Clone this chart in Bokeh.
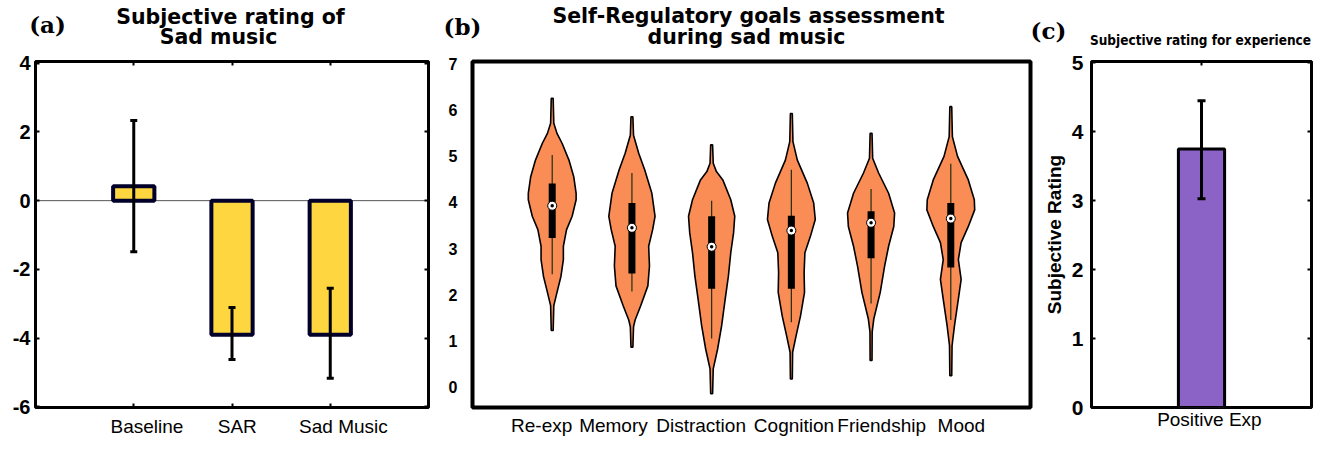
from bokeh.plotting import figure
from bokeh.models import (Range1d, FixedTicker, Label, Span, Whisker, ColumnDataSource,
                          TeeHead, LinearAxis)
from bokeh.layouts import row, column
from bokeh.embed import file_html
from bokeh.resources import INLINE

# ---------------- data ----------------
# (a) Subjective rating of Sad music
a_categories = ["Baseline", "SAR", "Sad Music"]
a_means = [0.42, -3.9, -3.9]
a_err_upper = [2.33, -3.11, -2.55]
a_err_lower = [-1.49, -4.62, -5.17]
a_yticks = [-6, -4, -2, 0, 2, 4]

# (b) Self-Regulatory goals (violins)
b_categories = ["Re-exp", "Memory", "Distraction", "Cognition", "Friendship", "Mood"]
b_medians = [3.93, 3.45, 3.04, 3.39, 3.56, 3.65]
b_q1 = [3.23, 2.46, 2.13, 2.13, 2.79, 2.59]
b_q3 = [4.41, 3.99, 3.70, 3.71, 3.81, 3.99]
b_whisk_lo = [2.44, 2.07, 1.05, 1.40, 1.81, 1.45]
b_whisk_hi = [5.03, 4.64, 4.04, 4.71, 4.29, 4.84]
b_yticks = [0, 1, 2, 3, 4, 5, 6, 7]
# density profiles: value levels and half-widths (x-axis units)
reexp_y = [1.22, 1.76, 2.05, 2.40, 2.76, 3.05, 3.41, 3.70, 4.06, 4.20, 4.56, 4.92, 5.28, 5.50, 5.72, 6.26]
reexp_w = [0.012, 0.02, 0.06, 0.11, 0.14, 0.14, 0.18, 0.25, 0.30, 0.30, 0.27, 0.21, 0.125, 0.06, 0.02, 0.012]
memory_y = [0.86, 1.30, 1.45, 1.76, 2.19, 2.62, 3.05, 3.41, 3.70, 4.20, 4.71, 5.07, 5.46, 5.86]
memory_w = [0.012, 0.02, 0.04, 0.11, 0.20, 0.22, 0.21, 0.26, 0.29, 0.25, 0.16, 0.085, 0.02, 0.012]
distr_y = [-0.15, 0.39, 0.82, 1.32, 1.90, 2.40, 2.91, 3.34, 3.70, 4.06, 4.49, 4.67, 4.85, 5.25]
distr_w = [0.012, 0.02, 0.075, 0.125, 0.17, 0.21, 0.24, 0.275, 0.29, 0.24, 0.14, 0.06, 0.02, 0.012]
cogn_y = [0.17, 0.75, 1.11, 1.54, 2.05, 2.48, 2.91, 3.27, 3.63, 3.99, 4.42, 4.92, 5.32, 5.93]
cogn_w = [0.012, 0.016, 0.06, 0.115, 0.165, 0.16, 0.17, 0.24, 0.30, 0.28, 0.20, 0.075, 0.02, 0.012]
friend_y = [0.57, 1.19, 1.47, 2.05, 2.62, 3.05, 3.48, 3.77, 4.20, 4.64, 4.96, 5.50]
friend_w = [0.012, 0.014, 0.034, 0.115, 0.17, 0.22, 0.285, 0.295, 0.22, 0.095, 0.02, 0.012]
mood_y = [0.24, 0.89, 1.32, 1.90, 2.33, 2.76, 3.13, 3.48, 3.84, 4.06, 4.49, 5.00, 5.43, 6.08]
mood_w = [0.012, 0.016, 0.046, 0.095, 0.13, 0.095, 0.13, 0.22, 0.30, 0.295, 0.22, 0.085, 0.02, 0.012]

# (c) Subjective rating for experience
c_categories = ["Positive Exp"]
c_means = [3.75]
c_err_upper = [4.45]
c_err_lower = [3.03]
c_yticks = [0, 1, 2, 3, 4, 5]

# ---------------- styling helpers ----------------
SANS = "Liberation Sans"
COND = "DejaVu Sans Condensed"
NB = "\u00a0"
HH = 49            # header height
PH = 400           # panel height


def shifted(label, n):
    """Pad a tick label with no-break spaces to nudge it sideways (n>0: right)."""
    return NB * n + label if n > 0 else label + NB * (-n)


def style_fig(p, lw):
    p.xgrid.visible = False
    p.ygrid.visible = False
    p.outline_line_color = "black"
    p.outline_line_width = lw
    p.background_fill_color = "white"
    p.border_fill_color = "white"


def style_axes(p, xsize, ysize, xstand, ystand, ticks=True):
    for ax in p.xaxis + p.yaxis:
        ax.axis_line_color = None
        ax.minor_tick_line_color = None
        ax.major_label_text_color = "black"
        if ticks:
            ax.major_tick_in = 4
            ax.major_tick_out = 0
            ax.major_tick_line_width = 2
            ax.major_tick_line_color = "black"
        else:
            ax.major_tick_line_color = None
    p.xaxis.major_label_text_font = SANS
    p.xaxis.major_label_text_font_size = xsize
    p.xaxis.major_label_standoff = xstand
    p.yaxis.major_label_text_font = SANS
    p.yaxis.major_label_text_font_style = "bold"
    p.yaxis.major_label_text_font_size = ysize
    p.yaxis.major_label_standoff = ystand


def mirror_axes(p, xticks, yticks):
    for ticks, side in ((xticks, "above"), (yticks, "right")):
        ax = LinearAxis(ticker=FixedTicker(ticks=ticks), axis_line_color=None,
                        major_tick_in=4, major_tick_out=0, major_tick_line_width=2,
                        minor_tick_line_color=None, major_label_text_font_size="1px",
                        major_label_text_alpha=0, major_label_standoff=0)
        p.add_layout(ax, side)


# ---------------- header (panel letters and titles) ----------------
hd = figure(width=1323, height=HH, x_range=Range1d(0, 1323), y_range=Range1d(HH, 0),
            output_backend="svg", toolbar_location=None, title=None,
            min_border=0, min_border_left=0, min_border_right=0, min_border_top=0, min_border_bottom=0)
hd.axis.visible = False
hd.xgrid.visible = False
hd.ygrid.visible = False
hd.outline_line_color = None
header_texts = [
    ("(a)", 47, 24, "DejaVu Serif", "23px"),
    ("Subjective rating of", 230, 16, "DejaVu Sans", "20.5px"),
    ("Sad music", 218, 36.8, "DejaVu Sans", "20.5px"),
    ("(b)", 462, 26, "DejaVu Serif", "23px"),
    ("Self-Regulatory goals assessment", 748, 15, "DejaVu Sans", "20.5px"),
    ("during sad music", 746, 36.8, "DejaVu Sans", "20.5px"),
    ("(c)", 1048, 30, "DejaVu Serif", "23px"),
    ("Subjective rating for experience", 1200, 39.5, COND, "13.5px"),
]
for t, x, y, f, s in header_texts:
    hd.add_layout(Label(x=x, y=y, text=t, text_font=f, text_font_size=s, text_font_style="bold",
                        text_align="center", text_baseline="middle", text_color="black"))

# ---------------- panel (a) ----------------
pa = figure(width=440, height=PH, x_range=Range1d(0, 4), y_range=Range1d(-6.02, 4.05),
            output_backend="svg", toolbar_location=None, title=None,
            min_border_left=35, min_border_right=12, min_border_top=11, min_border_bottom=PH - 11 - 347)
style_fig(pa, 3)
a_x = [i + 1 for i in range(len(a_categories))]
pa.add_layout(Span(location=0, dimension="width", line_color="#555555", line_width=1, level="underlay"))
pa.vbar(x=a_x, top=a_means, bottom=0, width=0.42, fill_color="#FED640",
        line_color="#00002a", line_width=4)
src_a = ColumnDataSource(dict(x=a_x, upper=a_err_upper, lower=a_err_lower))
pa.add_layout(Whisker(source=src_a, base="x", upper="upper", lower="lower", line_width=3,
                      line_color="black",
                      upper_head=TeeHead(size=7, line_width=3, line_color="black"),
                      lower_head=TeeHead(size=7, line_width=3, line_color="black"),
                      level="annotation"))
a_nudge = [5, 2, 5]
pa.xaxis.ticker = FixedTicker(ticks=a_x)
pa.xaxis.major_label_overrides = {x: shifted(c, n) for x, c, n in zip(a_x, a_categories, a_nudge)}
pa.yaxis.ticker = FixedTicker(ticks=a_yticks)
pa.yaxis.major_label_overrides = {v: str(v) for v in a_yticks}
style_axes(pa, "19px", "20px", 8, 5)
mirror_axes(pa, a_x, a_yticks)

# ---------------- panel (b) ----------------
pb = figure(width=600, height=PH, x_range=Range1d(0, 7), y_range=Range1d(-0.45, 7.06),
            output_backend="svg", toolbar_location=None, title=None,
            min_border_left=32, min_border_right=10, min_border_top=12, min_border_bottom=PH - 12 - 348)
style_fig(pb, 4)
b_x = [i + 1 for i in range(len(b_categories))]
profiles = [(reexp_y, reexp_w), (memory_y, memory_w), (distr_y, distr_w),
            (cogn_y, cogn_w), (friend_y, friend_w), (mood_y, mood_w)]
xs_all, ys_all = [], []
for cx, (ys, ws) in zip(b_x, profiles):
    xs_all.append([cx + w for w in ws] + [cx - w for w in reversed(ws)])
    ys_all.append(list(ys) + list(reversed(ys)))
pb.patches(xs_all, ys_all, fill_color="#FA8C56", line_color="black", line_width=1.6)
pb.segment(x0=b_x, y0=b_whisk_lo, x1=b_x, y1=b_whisk_hi, line_color="#1f2f0f", line_width=1.2)
pb.segment(x0=b_x, y0=b_q1, x1=b_x, y1=b_q3, line_color="black", line_width=7, line_cap="butt")
pb.scatter(b_x, b_medians, size=9, fill_color="white", line_color="black", line_width=1)
pb.scatter(b_x, b_medians, size=3.5, fill_color="black", line_color=None)
b_nudge = [-4, -7, -4, 1, 4, 4]
pb.xaxis.ticker = FixedTicker(ticks=b_x)
pb.xaxis.major_label_overrides = {x: shifted(c, n) for x, c, n in zip(b_x, b_categories, b_nudge)}
pb.yaxis.ticker = FixedTicker(ticks=b_yticks)
style_axes(pb, "19px", "16px", 1, 9, ticks=False)

# ---------------- panel (c) ----------------
pc = figure(width=283, height=PH, x_range=Range1d(0, 2), y_range=Range1d(0, 5.02),
            output_backend="svg", toolbar_location=None, title=None,
            min_border_left=51, min_border_right=12, min_border_top=11, min_border_bottom=PH - 11 - 351)
style_fig(pc, 3)
c_x = [1]
pc.vbar(x=c_x, top=c_means, bottom=0, width=0.42, fill_color="#8B63C7",
        line_color="black", line_width=3)
src_c = ColumnDataSource(dict(x=c_x, upper=c_err_upper, lower=c_err_lower))
pc.add_layout(Whisker(source=src_c, base="x", upper="upper", lower="lower", line_width=3,
                      line_color="black",
                      upper_head=TeeHead(size=8, line_width=3, line_color="black"),
                      lower_head=TeeHead(size=8, line_width=3, line_color="black"),
                      level="annotation"))
c_nudge = [3]
pc.xaxis.ticker = FixedTicker(ticks=c_x)
pc.xaxis.major_label_overrides = {x: shifted(c, n) for x, c, n in zip(c_x, c_categories, c_nudge)}
pc.yaxis.ticker = FixedTicker(ticks=c_yticks)
style_axes(pc, "19px", "21px", 1, 8)
pc.xaxis.major_tick_line_color = None
pc.yaxis.axis_label = "Subjective Rating"
pc.yaxis.axis_label_text_font = SANS
pc.yaxis.axis_label_text_font_style = "bold"
pc.yaxis.axis_label_text_font_size = "19px"
pc.yaxis.axis_label_text_color = "black"
pc.yaxis.axis_label_standoff = 4
mirror_axes(pc, c_x, c_yticks)

layout = column(hd, row(pa, pb, pc, spacing=0), spacing=0)
open("out.html", "w").write(file_html(layout, INLINE))
